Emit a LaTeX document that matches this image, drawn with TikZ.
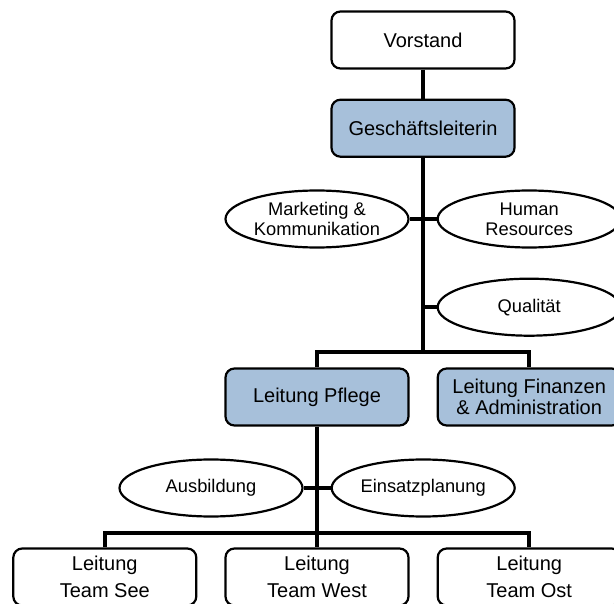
\documentclass[tikz,border=0pt]{standalone}
\usepackage{fontspec}
\setmainfont{Liberation Sans}
\usepackage{xcolor}
\usetikzlibrary{positioning, calc, shapes.geometric}
\definecolor{leadblue}{RGB}{167,192,218}
\tikzset{
    orgnode/.style = {inner sep=0pt, align=center, draw=black, line width=2.2pt, text=black},
    orgbox/.style = {orgnode, rectangle, rounded corners=9pt, minimum width=183pt,
        minimum height=57pt, font=\fontsize{20}{27}\selectfont},
    lead/.style = {orgbox, fill=leadblue, font=\fontsize{20}{21}\selectfont},
    staff/.style = {orgnode, ellipse, minimum width=183pt, minimum height=57pt,
        font=\fontsize{18.3}{20}\selectfont},
    link/.style = {line width=3.6pt},
}

\begin{document}
\begin{tikzpicture}[x=1pt, y=-1pt]
        \useasboundingbox (0,0) rectangle (614,604);
        \clip (0,0) rectangle (614,604);
        \node (vorstand) [orgbox] at (423,40) {Vorstand};
        \node (gl) [lead, below=29pt of vorstand] {Geschäftsleiterin};
        \node (mk) [staff] at (317,219) {Marketing \&\\Kommunikation};
        \node (hr) [staff, right=27pt of mk] {Human\\Resources};
        \node (qual) [staff, below=29pt of hr] {Qualität};
        \node (pflege) [lead] at (317,397) {Leitung Pflege};
        \node (fin) [lead, right=27pt of pflege] {Leitung Finanzen\\\& Administration};
        \node (ausb) [staff] at (211,488) {Ausbildung};
        \node (einsatz) [staff, right=27pt of ausb] {Einsatzplanung};
        \node (west) [orgbox] at (317,577) {Leitung\\Team West};
        \node (see) [orgbox, left=27pt of west] {Leitung\\Team See};
        \node (ost) [orgbox, right=27pt of west] {Leitung\\Team Ost};
        \coordinate (bus1) at (gl.south |- 0,352);
        \coordinate (bus2) at (pflege.south |- 0,533);
        \draw[link] (vorstand) -- (gl);
        \draw[link] (gl) -- (bus1);
        \draw[link] (mk) -- (mk -| gl);
        \draw[link] (hr) -- (hr -| gl);
        \draw[link] (qual) -- (qual -| gl);
        \draw[link] (pflege) |- (bus1) -| (fin);
        \draw[link] (pflege) -- (bus2);
        \draw[link] (ausb) -- (einsatz);
        \draw[link] (see) |- (bus2) -| (ost);
        \draw[link] (bus2) -- (west);
\end{tikzpicture}
\end{document}
